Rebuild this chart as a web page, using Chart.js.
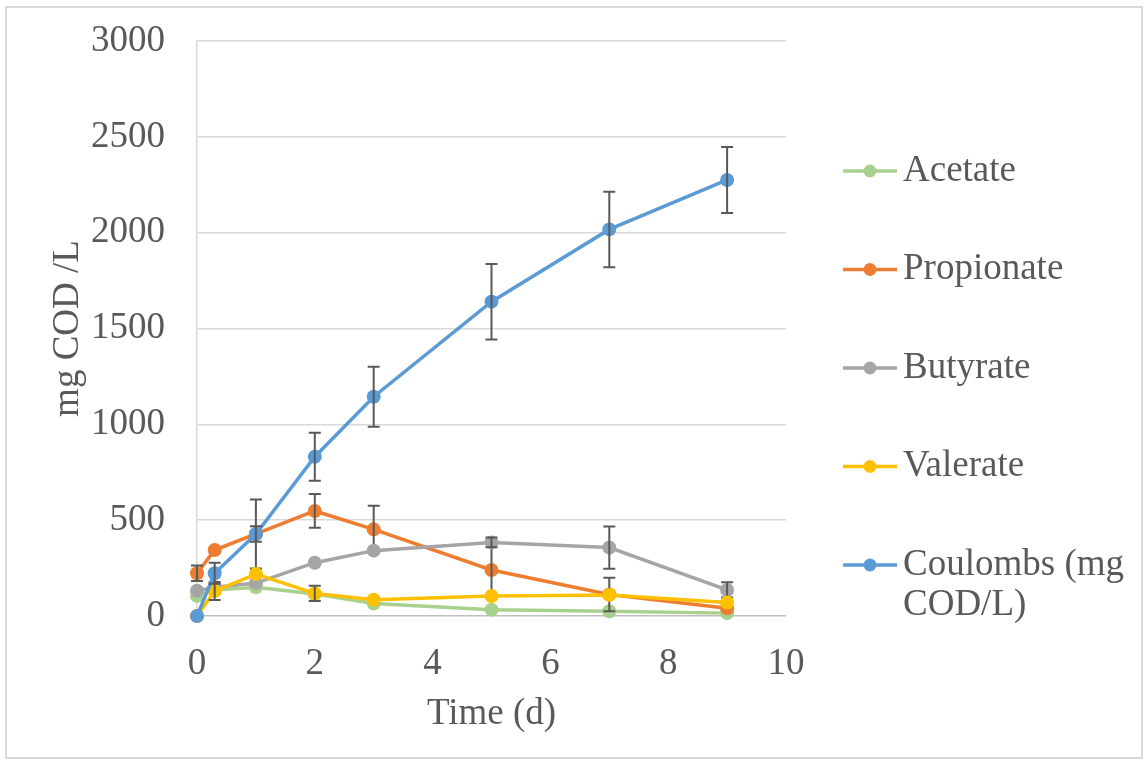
<!DOCTYPE html>
<html>
<head>
<meta charset="utf-8">
<title>COD over time</title>
<script src="https://cdn.jsdelivr.net/npm/chart.js@4"></script>
<style>
  html, body { margin: 0; padding: 0; background: #fff; }
  #wrap { position: relative; width: 1145px; height: 761px; }
  #frame {
    position: absolute; left: 5px; top: 6px; width: 1134px; height: 749px;
    border: 2px solid #d9d9d9; pointer-events: none;
  }
</style>
</head>
<body>
<div id="wrap">
  <canvas id="myChart"></canvas>
  <div id="frame"></div>
</div>
<script>
// sampling times (d)
const times = [0, 0.3, 1, 2, 3, 5, 7, 9];

const seriesNames = ["Acetate", "Propionate", "Butyrate", "Valerate", "Coulombs (mg COD/L)"];
const seriesColors = ["#A9D18E", "#ED7D31", "#A5A5A5", "#FFC000", "#5B9BD5"];

// mg COD/L
const acetate = [105, 135, 150, 115, 65, 33, 25, 15];
const propionate = [223, 344, 428, 548, 452, 240, 112, 40];
const butyrate = [132, 150, 172, 278, 341, 384, 357, 136];
const valerate = [0, 130, 219, 118, 85, 104, 110, 70];
const coulombs = [0, 223, 428, 831, 1144, 1640, 2017, 2275];

// error bars (+/-), null = none
const acetateErr = [null, null, null, null, null, null, null, null];
const propionateErr = [40, null, 180, 88, 123, 140, 87, null];
const butyrateErr = [null, null, null, null, null, 25, 110, 40];
const valerateErr = [null, 47, null, 40, null, null, null, null];
const coulombsErr = [0, 55, 40, 125, 157, 197, 197, 172];

const seriesValues = [acetate, propionate, butyrate, valerate, coulombs];
const seriesErrors = [acetateErr, propionateErr, butyrateErr, valerateErr, coulombsErr];

const FONT = '"Liberation Serif", "Times New Roman", serif';
const TEXT = "#595959";

// error bars drawn right after each series so later series sit on top
const errorBars = {
  id: "errorBars",
  afterDatasetDraw(chart, args) {
    const errs = seriesErrors[args.index];
    const meta = args.meta;
    const y = chart.scales.y;
    const ctx = chart.ctx;
    ctx.save();
    ctx.strokeStyle = "#595959";
    ctx.lineWidth = 2;
    meta.data.forEach((pt, i) => {
      const e = errs[i];
      if (e == null || e === 0) return;
      const v = seriesValues[args.index][i];
      const top = y.getPixelForValue(v + e);
      const bot = y.getPixelForValue(Math.max(v - e, 0));
      ctx.beginPath();
      ctx.moveTo(pt.x, top); ctx.lineTo(pt.x, bot);
      ctx.moveTo(pt.x - 6, top); ctx.lineTo(pt.x + 6, top);
      ctx.moveTo(pt.x - 6, bot); ctx.lineTo(pt.x + 6, bot);
      ctx.stroke();
    });
    ctx.restore();
  },
};

// legend on the right with wrapped labels
const sideLegend = {
  id: "sideLegend",
  afterDraw(chart) {
    const ctx = chart.ctx;
    const left = chart.chartArea.right + 57;
    const textX = left + 60;
    const maxW = chart.width - textX - 6;
    ctx.save();
    ctx.font = "37px " + FONT;
    ctx.textBaseline = "middle";
    seriesNames.forEach((name, i) => {
      const cy = 171 + i * 98.5;
      ctx.strokeStyle = seriesColors[i];
      ctx.lineWidth = 3.5;
      ctx.beginPath();
      ctx.moveTo(left, cy); ctx.lineTo(left + 54, cy);
      ctx.stroke();
      ctx.fillStyle = seriesColors[i];
      ctx.beginPath();
      ctx.arc(left + 27, cy, 6.5, 0, Math.PI * 2);
      ctx.fill();
      // simple word wrap
      const words = name.split(" ");
      const lines = [];
      let cur = "";
      words.forEach((w) => {
        const test = cur ? cur + " " + w : w;
        if (ctx.measureText(test).width > maxW && cur) { lines.push(cur); cur = w; }
        else cur = test;
      });
      lines.push(cur);
      ctx.fillStyle = TEXT;
      lines.forEach((ln, k) => ctx.fillText(ln, textX, cy + k * 40));
    });
    ctx.restore();
  },
};

const datasets = seriesNames.map((name, i) => ({
  label: name,
  data: times.map((t, k) => ({ x: t, y: seriesValues[i][k] })),
  borderColor: seriesColors[i],
  backgroundColor: seriesColors[i],
  borderWidth: 3.5,
  pointRadius: 7,
  pointBorderWidth: 0,
  pointHoverRadius: 7,
  tension: 0,
  clip: false,
  order: seriesNames.length - 1 - i,
}));

const ctx = document.getElementById("myChart").getContext("2d");
new Chart(ctx, {
  type: "line",
  data: { datasets: datasets },
  options: {
    responsive: true,
    maintainAspectRatio: false,
    animation: false,
    events: [],
    layout: { padding: { left: 0, top: 41, right: 359, bottom: 0 } },
    scales: {
      x: {
        type: "linear",
        min: 0,
        max: 10,
        ticks: { stepSize: 2, padding: 26, color: TEXT, font: { family: FONT, size: 37 } },
        grid: { display: false, drawTicks: false },
        border: { display: false },
        title: {
          display: true,
          text: "Time (d)",
          color: TEXT,
          font: { family: FONT, size: 37 },
          padding: { top: 0, bottom: 25 },
        },
        afterFit(scale) {
          scale.height = 145;
          scale.paddingLeft = 0;
          scale.paddingRight = 0;
        },
      },
      y: {
        min: 0,
        max: 3000,
        ticks: {
          stepSize: 500,
          padding: 32,
          color: TEXT,
          font: { family: FONT, size: 37 },
          callback: (v) => String(v),
        },
        grid: {
          drawTicks: false,
          lineWidth: 1.5,
          color: (c) => (c.tick && c.tick.value === 0 ? "#bfbfbf" : "#d9d9d9"),
        },
        border: { display: true, color: "#d9d9d9", width: 1.5 },
        title: {
          display: true,
          text: "mg COD /L",
          color: TEXT,
          font: { family: FONT, size: 37 },
          padding: { top: 46, bottom: 0 },
        },
        afterFit(scale) {
          scale.width = 197;
          scale.paddingTop = 0;
          scale.paddingBottom = 0;
        },
      },
    },
    plugins: {
      legend: { display: false },
      tooltip: { enabled: false },
    },
  },
  plugins: [errorBars, sideLegend],
});
</script>
</body>
</html>
